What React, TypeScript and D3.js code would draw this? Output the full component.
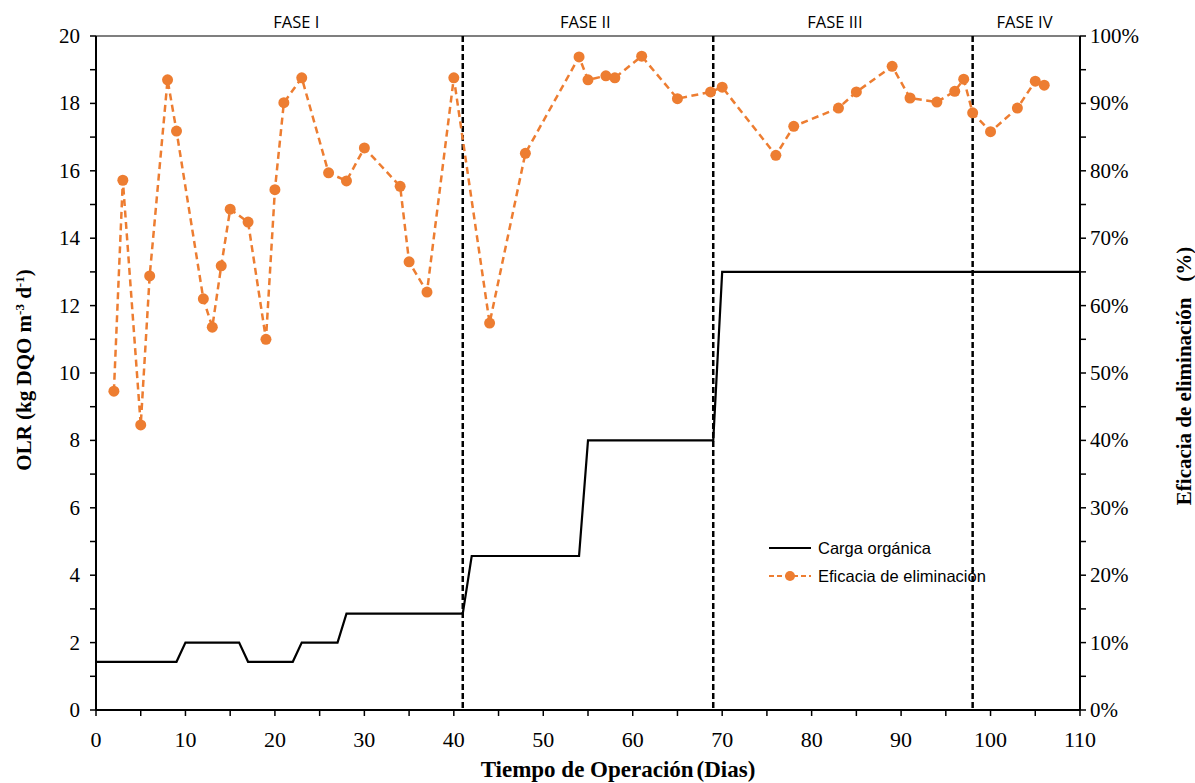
import React from "react";
import * as d3 from "d3";

const effDays = [2, 3, 5, 6, 8, 9, 12, 13, 14, 15, 17, 19, 20, 21, 23, 26, 28, 30, 34, 35, 37, 40, 44, 48, 54, 55, 57, 58, 61, 65, 68.7, 70, 76, 78, 83, 85, 89, 91, 94, 96, 97, 98, 100, 103, 105, 106];
const effValues = [47.3, 78.6, 42.3, 64.4, 93.5, 85.9, 61.0, 56.8, 65.9, 74.3, 72.4, 55.0, 77.2, 90.1, 93.8, 79.7, 78.5, 83.4, 77.7, 66.5, 62.0, 93.8, 57.4, 82.6, 96.9, 93.5, 94.1, 93.8, 97.0, 90.7, 91.7, 92.4, 82.3, 86.6, 89.3, 91.7, 95.5, 90.8, 90.2, 91.8, 93.6, 88.6, 85.8, 89.3, 93.3, 92.7];

const olrDays = [0, 9, 10, 16, 17, 22, 23, 27, 28, 41, 42, 54, 55, 69, 70, 110];
const olrValues = [1.43, 1.43, 2.0, 2.0, 1.43, 1.43, 2.0, 2.0, 2.86, 2.86, 4.57, 4.57, 8.0, 8.0, 13.0, 13.0];

const phaseLines = [41, 69, 98];
const phaseLabels = ["FASE I", "FASE II", "FASE III", "FASE IV"];
const phaseCenters = [22.4, 54.7, 82.6, 103.8];

const xTicks = [0, 10, 20, 30, 40, 50, 60, 70, 80, 90, 100, 110];
const xMinor = [5, 15, 25, 35, 45, 55, 65, 75, 85, 95, 105];
const yTicks = [0, 2, 4, 6, 8, 10, 12, 14, 16, 18, 20];
const yMinor = [1, 3, 5, 7, 9, 11, 13, 15, 17, 19];
const pctTicks = [0, 10, 20, 30, 40, 50, 60, 70, 80, 90, 100];
const pctMinor = [5, 15, 25, 35, 45, 55, 65, 75, 85, 95];

const ORANGE = "#ED7D31";

export default function App() {
  const W = 1195, H = 783;
  const L = 96, R = 1080, T = 36, B = 710;
  const x = d3.scaleLinear().domain([0, 110]).range([L, R]);
  const y = d3.scaleLinear().domain([0, 20]).range([B, T]);
  const yp = d3.scaleLinear().domain([0, 100]).range([B, T]);

  const olrLine = d3.line<number>().x((_, i) => x(olrDays[i])).y((d) => y(d));
  const effLine = d3.line<number>().x((_, i) => x(effDays[i])).y((d) => yp(d));

  const serif = "'Liberation Serif', 'Times New Roman', serif";
  const sans = "'Liberation Sans', Arial, sans-serif";
  const phaseFont = "'Open Sans', 'Noto Sans', sans-serif";

  return (
    <svg width={W} height={H} style={{ position: "absolute", left: 0, top: 0, background: "#fff" }}>
      <rect x={0} y={0} width={W} height={H} fill="#fff" />
      <line x1={L} x2={R} y1={T} y2={T} stroke="#555" strokeWidth={1.5} />
      {phaseLines.map((d) => (
        <line key={d} x1={x(d)} x2={x(d)} y1={T} y2={B} stroke="#000" strokeWidth={2.5} strokeDasharray="6,3" />
      ))}
      {phaseLabels.map((t, i) => (
        <text key={t} x={x(phaseCenters[i])} y={28} textAnchor="middle" fontFamily={phaseFont} fontSize={16.5} fill="#000">{t}</text>
      ))}
      <path d={olrLine(olrValues) || ""} fill="none" stroke="#000" strokeWidth={2.2} />
      <path d={effLine(effValues) || ""} fill="none" stroke={ORANGE} strokeWidth={2.5} strokeDasharray="7,4.5" />
      {effValues.map((v, i) => (
        <circle key={i} cx={x(effDays[i])} cy={yp(v)} r={5.5} fill={ORANGE} />
      ))}
      <line x1={L} x2={L} y1={T} y2={B} stroke="#000" strokeWidth={2} />
      <line x1={R} x2={R} y1={T} y2={B} stroke="#000" strokeWidth={2} />
      <line x1={L} x2={R} y1={B} y2={B} stroke="#000" strokeWidth={2} />
      {xTicks.concat(xMinor).map((d) => (
        <line key={"xt" + d} x1={x(d)} x2={x(d)} y1={B} y2={B + 6} stroke="#000" strokeWidth={1.5} />
      ))}
      {xTicks.map((d) => (
        <text key={"xl" + d} x={x(d)} y={B + 37} textAnchor="middle" fontFamily={serif} fontSize={22} fill="#000">{d}</text>
      ))}
      {yTicks.concat(yMinor).map((d) => (
        <line key={"ytl" + d} x1={L - 6} x2={L} y1={y(d)} y2={y(d)} stroke="#000" strokeWidth={1.5} />
      ))}
      {yTicks.map((d) => (
        <text key={"yt" + d} x={L - 16} y={y(d) + 7} textAnchor="end" fontFamily={serif} fontSize={21} fill="#000">{d}</text>
      ))}
      {pctTicks.concat(pctMinor).map((d) => (
        <line key={"ptl" + d} x1={R} x2={R + 6} y1={yp(d)} y2={yp(d)} stroke="#000" strokeWidth={1.5} />
      ))}
      {pctTicks.map((d) => (
        <text key={"pt" + d} x={R + 10} y={yp(d) + 7} textAnchor="start" fontFamily={serif} fontSize={21} fill="#000">{d}%</text>
      ))}
      <text x={618} y={777} textAnchor="middle" fontFamily={serif} fontSize={23} fontWeight="bold" fill="#000">Tiempo de Operación<tspan dx={3}>(Dias)</tspan></text>
      <text transform={`translate(31,370) rotate(-90)`} textAnchor="middle" fontFamily={serif} fontSize={21} fontWeight="bold" fill="#000">
        OLR (kg DQO m<tspan dy={-7} fontSize={13}>-3</tspan><tspan dy={7}> d</tspan><tspan dy={-7} fontSize={13}>-1</tspan><tspan dy={7}>)</tspan>
      </text>
      <text transform={`translate(1191,376) rotate(-90)`} textAnchor="middle" fontFamily={serif} fontSize={21} fontWeight="bold" fill="#000" style={{ whiteSpace: "pre" }}>
        Eficacia de eliminación   (%)
      </text>
      <line x1={769} x2={811} y1={548} y2={548} stroke="#000" strokeWidth={2} />
      <text x={818} y={554} fontFamily={sans} fontSize={16.5} fill="#000">Carga orgánica</text>
      <line x1={769} x2={811} y1={576} y2={576} stroke={ORANGE} strokeWidth={2} strokeDasharray="5,3" />
      <circle cx={790} cy={576} r={5} fill={ORANGE} />
      <text x={818} y={582} fontFamily={sans} fontSize={16.5} fill="#000">Eficacia de eliminación</text>
    </svg>
  );
}
